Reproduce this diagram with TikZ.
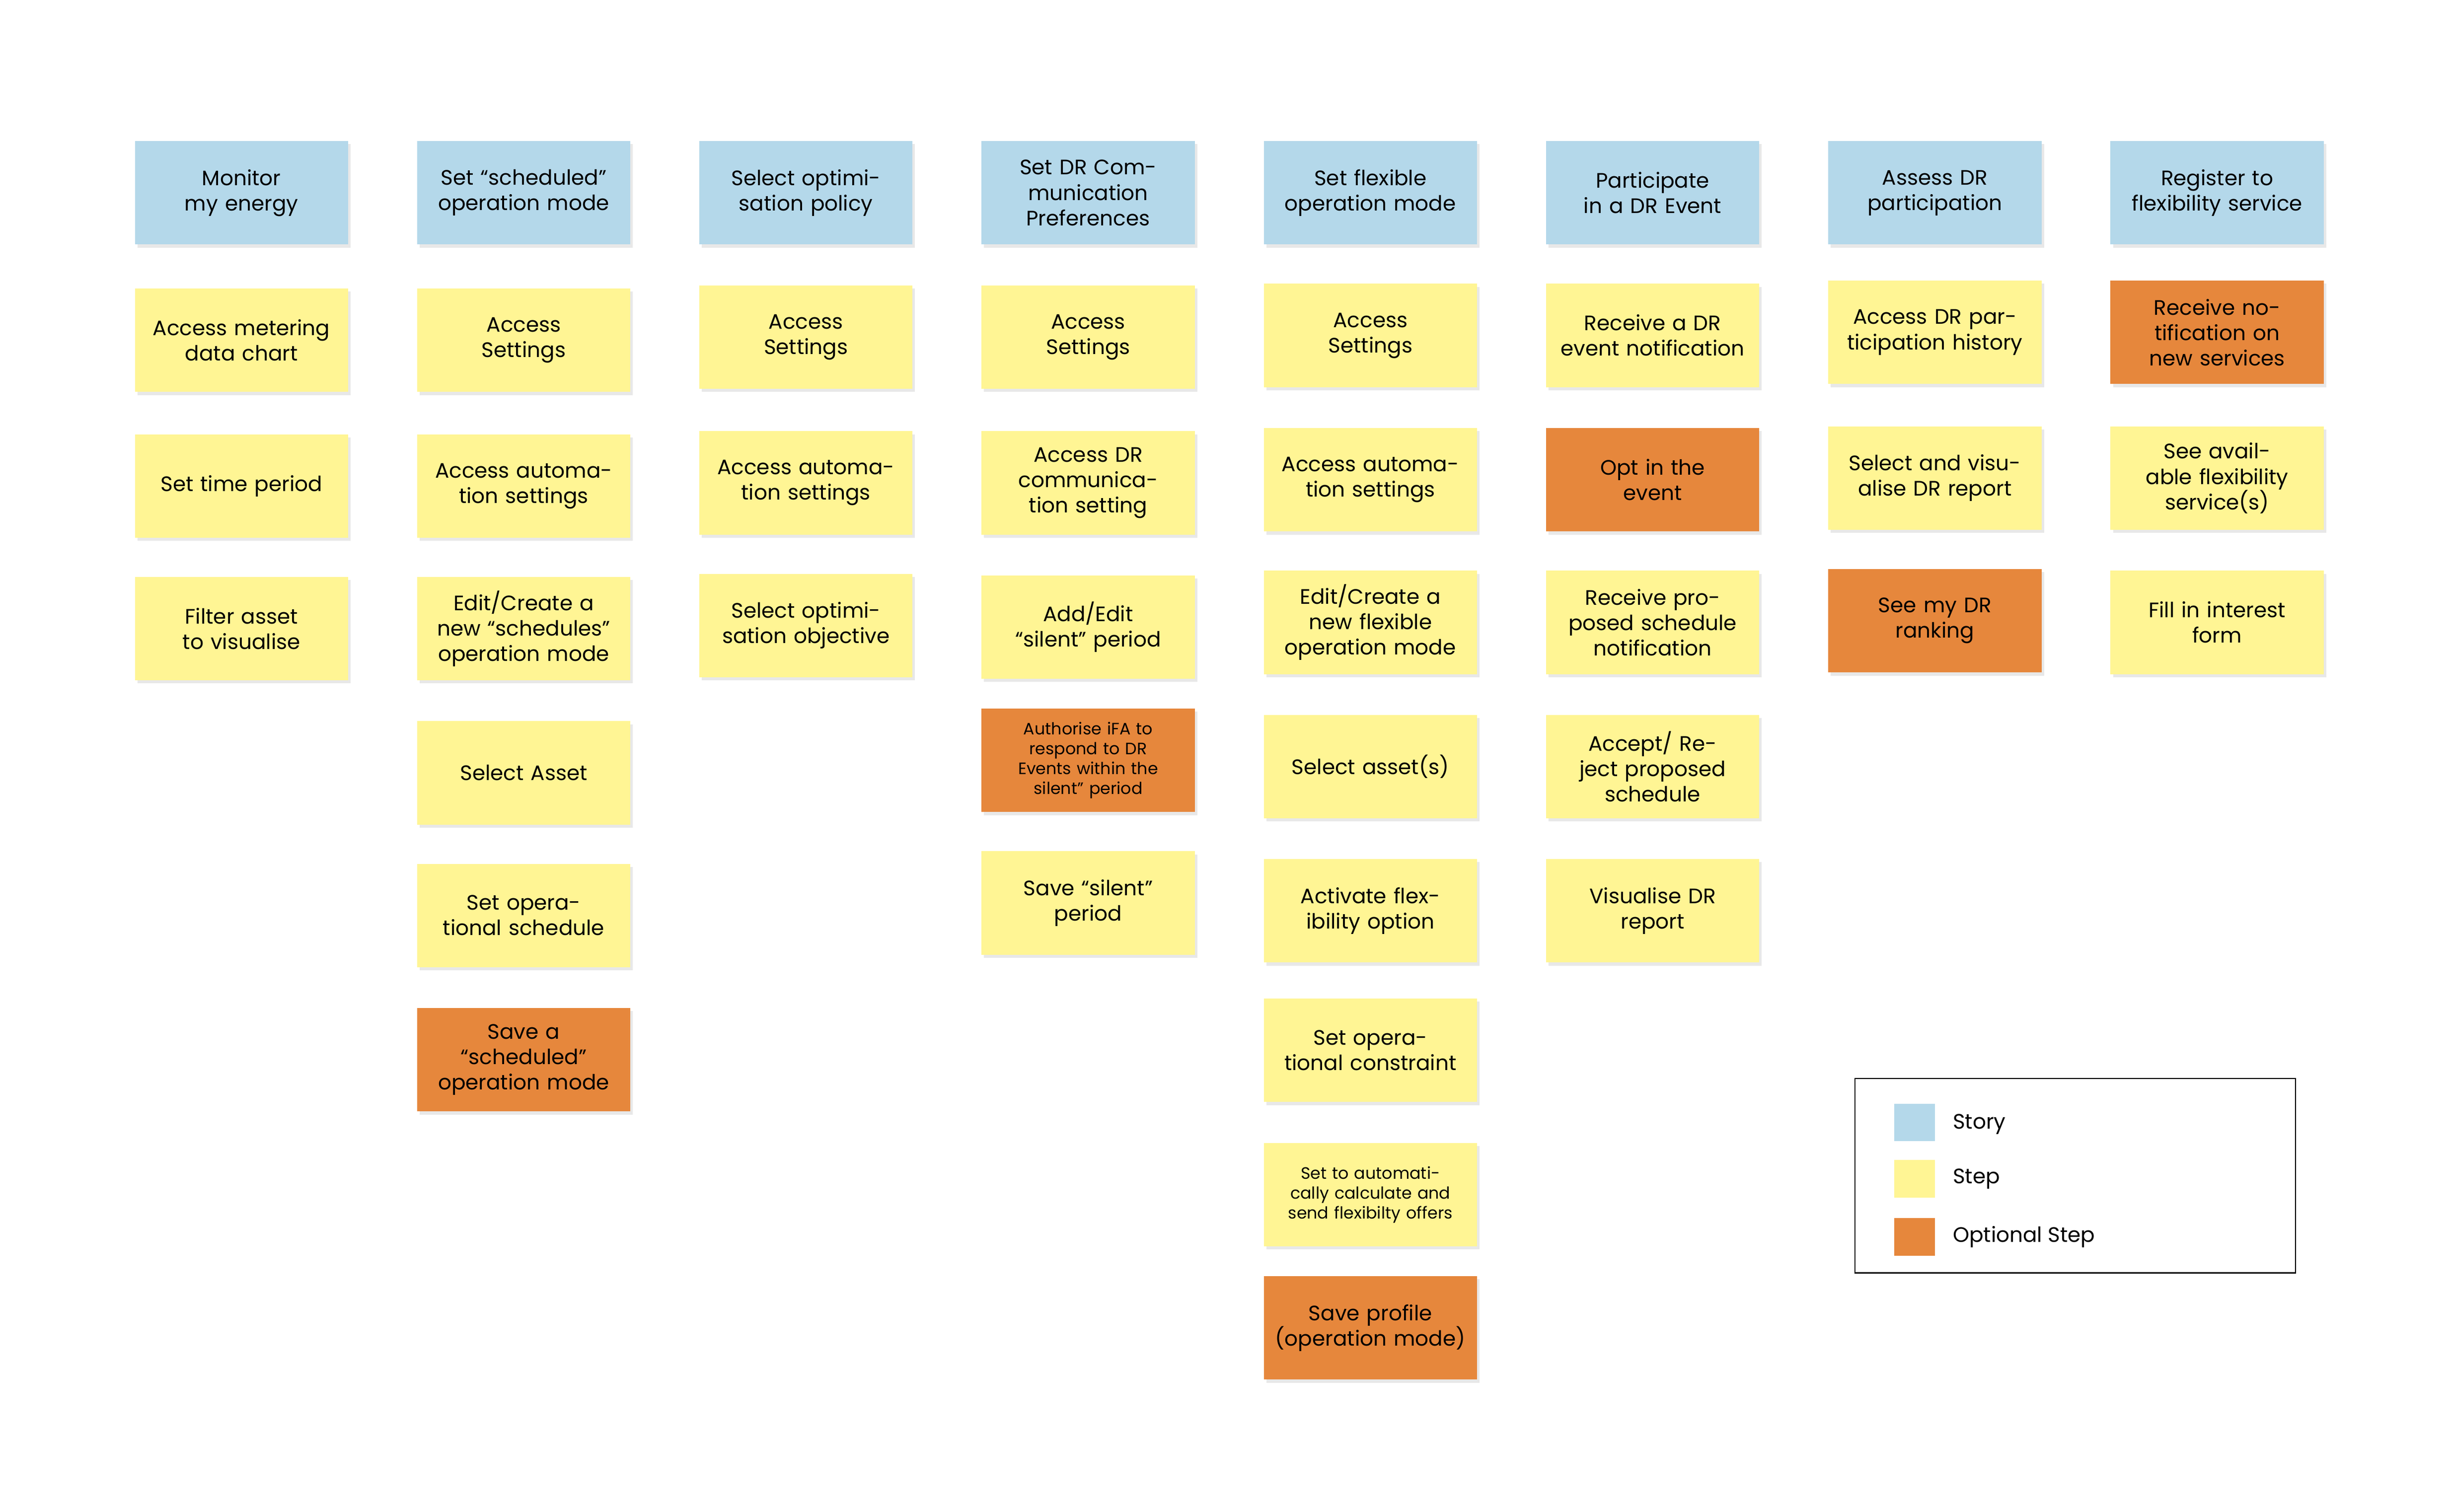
\documentclass[tikz,border=0pt]{standalone}
\usepackage{fontspec}
\setmainfont{Poppins}
\usetikzlibrary{shadows}
\definecolor{storyblue}{HTML}{B4D8EA}
\definecolor{stepyellow}{HTML}{FFF594}
\definecolor{optorange}{HTML}{E6873C}
\begin{document}
\begin{tikzpicture}[x=0.05cm,y=-0.05cm,
  card/.style={rectangle, minimum width=6.8cm, minimum height=3.3cm, text width=6.2cm, align=center, font=\fontsize{19}{23}\selectfont, drop shadow={opacity=0.18, shadow xshift=0.08cm, shadow yshift=-0.1cm}},
  story node/.style={card, fill=storyblue},
  step node/.style={card, fill=stepyellow},
  opt node/.style={card, fill=optorange},
  small/.style={font=\fontsize{15}{18}\selectfont}]
  \useasboundingbox (0,0) rectangle (1560,964.5);
  % stories
  \node[story node] (s1) at (154,123) {Monitor my energy};
  \node[story node] (s2) at (334,123) {Set “scheduled” operation mode};
  \node[story node] (s3) at (514,123) {Select optimisation policy};
  \node[story node] (s4) at (694,123) {Set DR Communication Preferences};
  \node[story node] (s5) at (874,123) {Set flexible operation mode};
  \node[story node] (s6) at (1054,123) {Participate in a DR Event};
  \node[story node] (s7) at (1234,123) {Assess DR participation};
  \node[story node] (s8) at (1414,123) {Register to flexibility service};

  % monitor
  \node[step node] (a1) at (154,217) {Access metering data chart};
  \node[step node] (a2) at (154,310) {Set time period};
  \node[step node] (a3) at (154,401) {Filter asset to visualise};

  % scheduled
  \node[step node] (b1) at (334,217) {Access\\Settings};
  \node[step node] (b2) at (334,310) {Access automation settings};
  \node[step node] (b3) at (334,401) {Edit/Create a new “schedules” operation mode};
  \node[step node] (b4) at (334,493) {Select Asset};
  \node[step node] (b5) at (334,584) {Set operational schedule};
  \node[opt node] (b6) at (334,676) {Save a\\“scheduled” operation mode};

  % optimisation
  \node[step node] (c1) at (514,215) {Access\\Settings};
  \node[step node] (c2) at (514,308) {Access automation settings};
  \node[step node] (c3) at (514,399) {Select optimisation objective};

  % communication
  \node[step node] (d1) at (694,215) {Access\\Settings};
  \node[step node] (d2) at (694,308) {Access DR communication setting};
  \node[step node] (d3) at (694,400) {Add/Edit\\“silent” period};
  \node[opt node, small] (d4) at (694,485) {Authorise iFA to respond to DR Events within the silent” period};
  \node[step node] (d5) at (694,576) {Save “silent” period};

  % flexible
  \node[step node] (e1) at (874,214) {Access\\Settings};
  \node[step node] (e2) at (874,306) {Access automation settings};
  \node[step node] (e3) at (874,397) {Edit/Create a new flexible operation mode};
  \node[step node] (e4) at (874,489) {Select asset(s)};
  \node[step node] (e5) at (874,581) {Activate flexibility option};
  \node[step node] (e6) at (874,670) {Set operational constraint};
  \node[step node, small] (e7) at (874,762) {Set to automatically calculate and send flexibilty offers};
  \node[opt node] (e8) at (874,847) {Save profile (operation mode)};

  % participate
  \node[step node] (f1) at (1054,214) {Receive a DR event notification};
  \node[opt node] (f2) at (1054,306) {Opt in the\\event};
  \node[step node] (f3) at (1054,397) {Receive proposed schedule notification};
  \node[step node] (f4) at (1054,489) {Accept/ Reject proposed schedule};
  \node[step node] (f5) at (1054,581) {Visualise DR\\report};

  % assess
  \node[step node] (g1) at (1234,212) {Access DR participation history};
  \node[step node] (g2) at (1234,305) {Select and visualise DR report};
  \node[opt node] (g3) at (1234,396) {See my DR\\ranking};

  % register
  \node[opt node] (h1) at (1414,212) {Receive notification on new services};
  \node[step node] (h2) at (1414,305) {See available flexibility service(s)};
  \node[step node] (h3) at (1414,397) {Fill in interest\\form};

  % legend
  \node[draw, line width=1.2pt, minimum width=14.05cm, minimum height=6.2cm] (legend) at (1323.5,750) {};
  \node[fill=storyblue, minimum width=1.3cm, minimum height=1.2cm] (l1) at (1221,716) {};
  \node[fill=stepyellow, minimum width=1.3cm, minimum height=1.2cm] (l2) at (1221,752) {};
  \node[fill=optorange, minimum width=1.3cm, minimum height=1.2cm] (l3) at (1221,789) {};
  \node[anchor=west, font=\fontsize{19}{23}\selectfont] at (1243,717) {Story};
  \node[anchor=west, font=\fontsize{19}{23}\selectfont] at (1243,752) {Step};
  \node[anchor=west, font=\fontsize{19}{23}\selectfont] at (1243,789) {Optional Step};
\end{tikzpicture}
\end{document}
